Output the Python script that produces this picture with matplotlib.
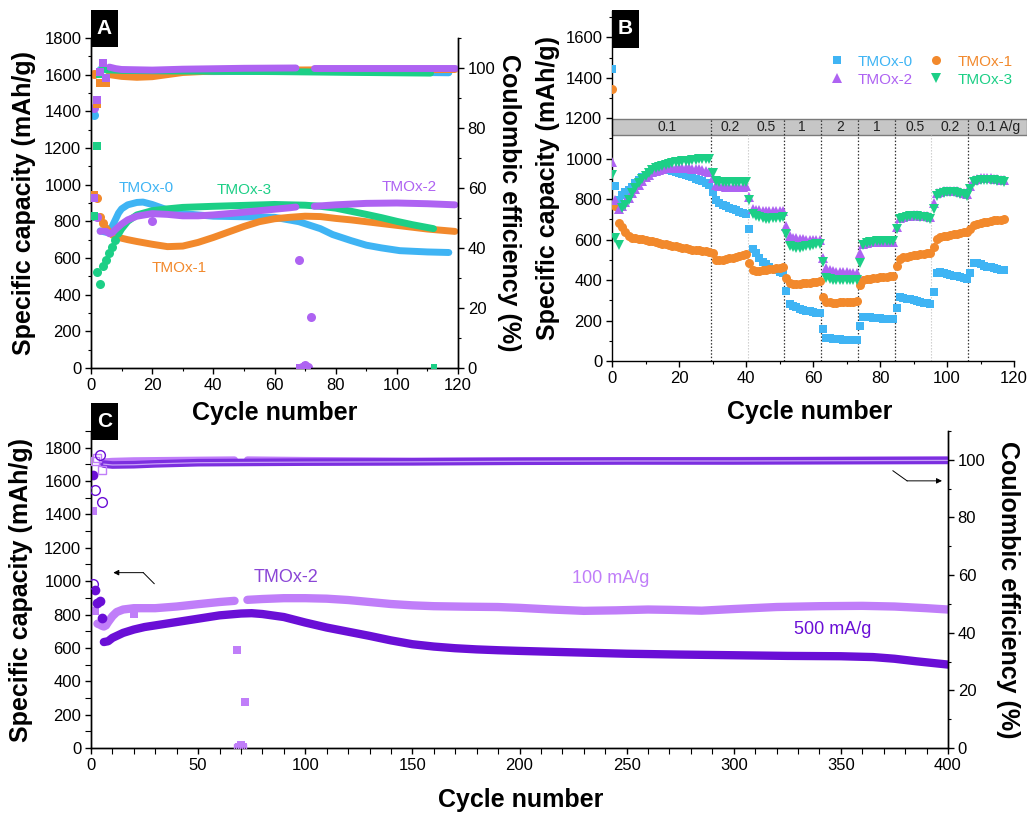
import matplotlib
matplotlib.use('Agg')
import matplotlib.pyplot as plt
from matplotlib.ticker import MultipleLocator
from matplotlib.patches import Rectangle

plt.rcParams['font.family'] = ['Liberation Sans', 'DejaVu Sans']
plt.rcParams['axes.linewidth'] = 1.0

# ---------------- colours ----------------
C_T0 = '#3fb4f4'
C_T1 = '#f2892c'
C_T2 = '#ae63f2'
C_T3 = '#1ccf86'
C_100 = '#c07ef9'
C_500 = '#6a0fd6'
C_LBL = '#8a45d6'

# ---------------- Panel A data ----------------
A_T0_cap_early_cyc = [1]
A_T0_cap_early = [1380]
A_T0_cap_cyc = [3, 5, 6, 7, 8, 9, 10, 12, 15, 17, 20, 25, 30, 40, 50, 60, 68, 75, 79, 85, 90, 95, 101, 110, 117]
A_T0_cap = [748, 740, 750, 775, 810, 845, 868, 890, 903, 905, 892, 862, 842, 828, 825, 822, 798, 760, 728, 695, 670, 655, 640, 633, 630]

A_T1_cap_early_cyc = [1, 2, 3, 4]
A_T1_cap_early = [1605, 925, 822, 793]
A_T1_cap_cyc = [5, 6, 7, 8, 10, 12, 15, 20, 25, 30, 35, 40, 45, 50, 55, 60, 65, 70, 75, 80, 85, 90, 95, 100, 105, 110, 119]
A_T1_cap = [765, 740, 725, 718, 708, 700, 690, 675, 662, 665, 685, 712, 742, 772, 798, 814, 822, 828, 826, 816, 808, 798, 788, 778, 768, 758, 745]

A_T2_cap_early_cyc = [1, 2]
A_T2_cap_early = [1418, 822]
A_T2_cap_cyc = [3, 4, 5, 6, 7, 8, 10, 12, 15, 20, 25, 30, 35, 40, 45, 50, 55, 60, 65, 67]
A_T2_cap = [745, 748, 745, 732, 738, 755, 785, 808, 828, 842, 838, 830, 830, 835, 842, 850, 858, 866, 874, 878]
A_T2_cap2_cyc = [73, 80, 90, 100, 110, 119]
A_T2_cap2 = [882, 890, 898, 900, 896, 890]
A_T2_cap_out_cyc = [20, 68, 69, 70, 71, 72]
A_T2_cap_out = [800, 590, 5, 18, 5, 278]

A_T3_cap_early_cyc = [1, 2, 3, 4, 5, 6, 7, 8]
A_T3_cap_early = [830, 525, 460, 555, 590, 625, 660, 700]
A_T3_cap_cyc = [9, 10, 12, 15, 20, 25, 30, 40, 50, 60, 70, 75, 80, 85, 90, 95, 100, 105, 112]
A_T3_cap = [730, 758, 800, 835, 858, 868, 876, 882, 887, 892, 888, 882, 872, 855, 838, 820, 800, 782, 760]

A_T0_ce_early_cyc = [1]
A_T0_ce_early = [57.0]
A_T0_ce_cyc = [3, 10, 20, 40, 60, 80, 100, 117]
A_T0_ce = [99.5, 99.2, 98.9, 98.8, 98.9, 98.8, 98.6, 98.4]

A_T1_ce_early_cyc = [1, 2, 3, 4, 5]
A_T1_ce_early = [57.7, 88.0, 94.9, 94.9, 94.9]
A_T1_ce_cyc = [6, 8, 10, 15, 20, 25, 30, 40, 60, 80, 100, 119]
A_T1_ce = [97.8, 97.5, 97.2, 96.9, 97.1, 97.8, 98.5, 99.0, 99.3, 99.4, 99.4, 99.5]

A_T2_ce_early_cyc = [1, 2, 3, 4, 5]
A_T2_ce_early = [56.8, 89.4, 98.8, 101.6, 96.6]
A_T2_ce_cyc = [6, 8, 10, 20, 30, 50, 67]
A_T2_ce = [100.3, 99.8, 99.5, 99.3, 99.6, 99.9, 100.0]
A_T2_ce2_cyc = [73, 90, 119]
A_T2_ce2 = [100.0, 100.0, 100.0]
A_T2_ce_out_cyc = [68, 69, 70, 71]
A_T2_ce_out = [0.3, 0.3, 0.9, 0.3]

A_T3_ce_early_cyc = [1, 2, 3, 4]
A_T3_ce_early = [50.7, 74.0, 98.0, 100.9]
A_T3_ce_cyc = [5, 10, 30, 60, 80, 100, 111]
A_T3_ce = [99.4, 99.2, 99.0, 98.8, 98.6, 98.4, 98.3]
A_T3_ce_out_cyc = [112]
A_T3_ce_out = [0.4]

# ---------------- Panel B data (rate capability, cycles 0..117) ----------------
B_cycles = list(range(118))
B_T0 = [1445, 865, 795, 820, 835, 845, 860, 880, 895, 910, 920, 930, 937, 941, 944, 945, 944, 942, 939, 935,
        930, 925, 920, 914, 908, 902, 896, 889, 880, 872,
        836, 795, 783, 773, 764, 757, 750, 744, 738, 733, 729,
        652, 556, 532, 507, 491, 477, 466, 457, 449, 441, 433,
        347, 281, 272, 265, 259, 254, 249, 245, 241, 238, 235,
        158, 116, 112, 110, 108, 107, 106, 106, 105, 105, 105,
        175, 219, 218, 216, 215, 213, 212, 210, 209, 208, 206,
        260, 318, 313, 308, 304, 300, 296, 292, 289, 285, 282,
        342, 436, 438, 435, 430, 426, 422, 418, 414, 410, 406,
        436, 486, 482, 477, 472, 467, 463, 459, 455, 451, 448]
B_T1 = [1345, 765, 683, 660, 639, 618, 610, 607, 605, 602, 598, 595, 591, 588, 584, 580, 577, 574, 570, 567,
        563, 560, 557, 554, 551, 549, 547, 545, 543, 541,
        535, 499, 498, 500, 503, 507, 511, 516, 520, 525, 530,
        482, 449, 447, 447, 448, 450, 453, 455, 458, 461, 465,
        408, 384, 381, 381, 382, 384, 386, 387, 389, 391, 393,
        317, 293, 290, 289, 289, 290, 291, 292, 293, 294, 295,
        375, 400, 404, 407, 409, 411, 413, 414, 416, 418, 420,
        471, 506, 512, 516, 519, 522, 525, 528, 530, 533, 536,
        565, 604, 611, 616, 620, 624, 627, 630, 633, 636, 640,
        650, 670, 676, 681, 685, 689, 692, 695, 697, 699, 701]
B_T2 = [985, 795, 750, 765, 785, 805, 830, 852, 872, 892, 908, 921, 932, 940, 946, 950, 953, 955, 956, 956,
        956, 955, 954, 953, 951, 949, 947, 944, 940, 936,
        905, 870, 866, 864, 862, 861, 861, 861, 862, 862, 863,
        811, 752, 746, 744, 743, 742, 742, 742, 742, 742, 742,
        667, 617, 610, 606, 603, 601, 600, 599, 598, 598, 598,
        507, 458, 450, 445, 442, 440, 439, 438, 437, 436, 436,
        532, 578, 584, 587, 589, 590, 590, 590, 590, 589, 588,
        663, 706, 712, 716, 719, 720, 720, 719, 717, 715, 712,
        779, 830, 836, 840, 842, 842, 841, 838, 835, 831, 826,
        866, 895, 900, 903, 905, 905, 904, 902, 900, 897, 893]
B_T3 = [920, 606, 575, 755, 772, 795, 830, 855, 878, 898, 915, 930, 942, 952, 960, 966, 971, 975, 979, 982,
        985, 987, 989, 991, 993, 995, 996, 998, 999, 1000,
        927, 890, 886, 884, 883, 883, 883, 884, 885, 886, 887,
        795, 728, 716, 710, 706, 704, 704, 705, 707, 709, 711,
        630, 568, 562, 560, 561, 563, 566, 569, 572, 576, 580,
        488, 410, 403, 400, 399, 398, 398, 399, 400, 401, 402,
        482, 573, 582, 587, 590, 592, 593, 594, 594, 594, 594,
        650, 700, 708, 713, 715, 716, 715, 713, 710, 707, 703,
        752, 818, 826, 831, 834, 834, 833, 830, 827, 823, 818,
        848, 884, 891, 895, 897, 897, 896, 894, 892, 889, 886]
B_rate_labels = ['0.1', '0.2', '0.5', '1', '2', '1', '0.5', '0.2', '0.1 A/g']
B_rate_label_x = [16.4, 35.2, 46.0, 56.6, 68.0, 79.0, 90.4, 101.0, 115.3]
B_bounds_dark = [29.6, 51.2, 62.4, 73.3, 84.4, 106.2]
B_bounds_light = [40.5, 95.1]

# ---------------- Panel C data (TMOx-2 long cycling) ----------------
C_100_cap_early_cyc = [1, 2]
C_100_cap_early = [1420, 822]
C_100_cap_cyc = [3, 4, 5, 6, 7, 8, 10, 12, 15, 20, 30, 40, 50, 60, 67]
C_100_cap = [745, 740, 733, 728, 735, 755, 790, 815, 830, 838, 838, 848, 862, 875, 882]
C_100_cap2_cyc = [73, 80, 90, 100, 110, 120, 130, 140, 150, 160, 175, 190, 200, 215, 230, 245, 260, 270, 285,
                  300, 320, 340, 360, 375, 390, 400]
C_100_cap2 = [888, 893, 898, 898, 895, 887, 875, 863, 855, 850, 847, 845, 840, 830, 822, 825, 830, 828, 823,
              833, 845, 850, 852, 848, 838, 830]
C_100_cap_out_cyc = [20, 68, 69, 70, 71, 72]
C_100_cap_out = [805, 590, 8, 15, 8, 277]

C_500_cap_early_cyc = [1, 2, 3, 4, 5]
C_500_cap_early = [1637, 950, 868, 882, 778]
C_500_cap_cyc = [6, 8, 10, 15, 20, 25, 30, 40, 50, 60, 70, 75, 80, 90, 100, 110, 120, 130, 140, 150, 160, 170,
                 180, 190, 200, 220, 250, 275, 300, 325, 350, 365, 375, 385, 400]
C_500_cap = [635, 640, 660, 690, 710, 725, 735, 755, 775, 795, 806, 808, 803, 785, 752, 722, 697, 672, 645, 622,
             608, 598, 591, 586, 582, 575, 565, 560, 556, 552, 550, 545, 535, 520, 500]

C_100_ce_early_cyc = [2, 3, 5]
C_100_ce_early = [99.7, 100.5, 96.5]
C_100_ce_cyc = [6, 10, 20, 50, 67]
C_100_ce = [99.3, 99.5, 99.7, 99.9, 100.0]
C_100_ce2_cyc = [73, 100, 150, 200, 300, 400]
C_100_ce2 = [100.0, 99.8, 99.6, 99.7, 99.8, 100.0]
C_100_ce_out_cyc = [68, 69, 70, 71]
C_100_ce_out = [0.5, 0.5, 0.8, 0.5]

C_500_ce_early_cyc = [1, 2, 4, 5]
C_500_ce_early = [57.0, 89.5, 101.6, 85.3]
C_500_ce_cyc = [6, 10, 20, 30, 50, 100, 150, 200, 250, 300, 350, 400]
C_500_ce = [98.5, 98.2, 98.3, 98.6, 99.0, 99.2, 99.3, 99.5, 99.6, 99.6, 99.7, 99.8]

# ---------------- figure ----------------
W, H = 1027, 817
fig = plt.figure(figsize=(W / 100, H / 100), dpi=100)


def rect(l, t, r, b):
    return [l / W, 1 - b / H, (r - l) / W, (b - t) / H]


def fx(px):
    return px / W


def fy(py):
    return 1 - py / H


def style_ticks(ax):
    ax.tick_params(which='major', direction='out', length=4, width=1, labelsize=12, pad=3)
    ax.tick_params(which='minor', direction='out', length=2.5, width=0.8)


def band(ax, x, y, color, lw=5, z=2):
    ax.plot(x, y, color=color, lw=lw, solid_capstyle='round', solid_joinstyle='round', zorder=z)


def pts(ax, x, y, color, marker='o', ms=6.5, z=3, filled=True, mew=1.0):
    if filled:
        ax.plot(x, y, ls='none', marker=marker, ms=ms, mfc=color, mec=color, mew=0, zorder=z)
    else:
        ax.plot(x, y, ls='none', marker=marker, ms=ms, mfc='none', mec=color, mew=mew, zorder=z)


def panel_letter(l, t, r, b, letter):
    fig.patches.append(Rectangle((fx(l), fy(b)), (r - l) / W, (b - t) / H, transform=fig.transFigure,
                                 facecolor='black', edgecolor='none', zorder=10))
    fig.text(fx((l + r) / 2), fy((t + b) / 2), letter, color='white', fontsize=15, fontweight='bold',
             ha='center', va='center', zorder=11)


# ================= Panel A =================
axA = fig.add_axes(rect(91, 38, 458, 368))
axA2 = axA.twinx()
axA.set_xlim(0, 120)
axA.set_ylim(0, 1800)
axA2.set_ylim(0, 110)
axA.spines['top'].set_visible(False)
axA2.spines['top'].set_visible(False)
axA.xaxis.set_major_locator(MultipleLocator(20))
axA.xaxis.set_minor_locator(MultipleLocator(10))
axA.yaxis.set_major_locator(MultipleLocator(200))
axA.yaxis.set_minor_locator(MultipleLocator(100))
axA2.yaxis.set_major_locator(MultipleLocator(20))
axA2.yaxis.set_minor_locator(MultipleLocator(10))
style_ticks(axA)
style_ticks(axA2)

band(axA, A_T0_cap_cyc, A_T0_cap, C_T0)
pts(axA, A_T0_cap_early_cyc, A_T0_cap_early, C_T0)
band(axA, A_T1_cap_cyc, A_T1_cap, C_T1)
pts(axA, A_T1_cap_early_cyc, A_T1_cap_early, C_T1)
band(axA, A_T3_cap_cyc, A_T3_cap, C_T3)
pts(axA, A_T3_cap_early_cyc, A_T3_cap_early, C_T3)
band(axA, A_T2_cap_cyc, A_T2_cap, C_T2)
band(axA, A_T2_cap2_cyc, A_T2_cap2, C_T2)
pts(axA, A_T2_cap_early_cyc, A_T2_cap_early, C_T2)
pts(axA, A_T2_cap_out_cyc, A_T2_cap_out, C_T2)

band(axA2, A_T0_ce_cyc, A_T0_ce, C_T0)
pts(axA2, A_T0_ce_early_cyc, A_T0_ce_early, C_T0, marker='s', ms=6)
band(axA2, A_T1_ce_cyc, A_T1_ce, C_T1)
pts(axA2, A_T1_ce_early_cyc, A_T1_ce_early, C_T1, marker='s', ms=6)
band(axA2, A_T3_ce_cyc, A_T3_ce, C_T3)
pts(axA2, A_T3_ce_early_cyc, A_T3_ce_early, C_T3, marker='s', ms=6)
pts(axA2, A_T3_ce_out_cyc, A_T3_ce_out, C_T3, marker='s', ms=5)
band(axA2, A_T2_ce_cyc, A_T2_ce, C_T2)
band(axA2, A_T2_ce2_cyc, A_T2_ce2, C_T2)
pts(axA2, A_T2_ce_early_cyc, A_T2_ce_early, C_T2, marker='s', ms=6)
pts(axA2, A_T2_ce_out_cyc, A_T2_ce_out, C_T2, marker='s', ms=5)

axA.text(18.1, 982, 'TMOx-0', color=C_T0, fontsize=11, ha='center', va='center')
axA.text(50.0, 971, 'TMOx-3', color=C_T3, fontsize=11, ha='center', va='center')
axA.text(104.0, 987, 'TMOx-2', color=C_T2, fontsize=11, ha='center', va='center')
axA.text(28.9, 545, 'TMOx-1', color=C_T1, fontsize=11, ha='center', va='center')

fig.text(fx(24), fy(203), 'Specific capacity (mAh/g)', rotation=90, fontsize=18, fontweight='bold',
         ha='center', va='center')
fig.text(fx(509), fy(203), 'Coulombic efficiency (%)', rotation=270, fontsize=18, fontweight='bold',
         ha='center', va='center')
fig.text(fx(275), fy(413), 'Cycle number', fontsize=18, fontweight='bold', ha='center', va='center')
panel_letter(91, 10, 118, 47, 'A')

# ================= Panel B =================
axB = fig.add_axes(rect(612, 11, 1014, 361))
axB.set_xlim(0, 120)
axB.set_ylim(0, 1730)
axB.spines['top'].set_visible(False)
axB.spines['right'].set_visible(False)
axB.xaxis.set_major_locator(MultipleLocator(20))
axB.xaxis.set_minor_locator(MultipleLocator(10))
axB.yaxis.set_major_locator(MultipleLocator(200))
axB.yaxis.set_minor_locator(MultipleLocator(100))
style_ticks(axB)

axB.vlines(B_bounds_dark, 0, 1195, colors='#333333', linestyles=(0, (1.2, 1.5)), lw=0.9, zorder=1)
axB.vlines(B_bounds_light, 0, 1115, colors='#c8c8c8', linestyles=(0, (1.2, 1.5)), lw=0.8, zorder=1)
axB.add_patch(Rectangle((0, 1115), 124, 80, facecolor='#c6c6c6', edgecolor='#7a7a7a', lw=1.0,
                        clip_on=False, zorder=0.5))
for lx, lt in zip(B_rate_label_x, B_rate_labels):
    axB.text(lx, 1155, lt, fontsize=10, ha='center', va='center', color='#222222', zorder=2)

hB0, = axB.plot(B_cycles, B_T0, ls='none', marker='s', ms=5.5, mfc=C_T0, mec=C_T0, mew=0, label='TMOx-0', zorder=3)
hB1, = axB.plot(B_cycles, B_T1, ls='none', marker='o', ms=6.5, mfc=C_T1, mec=C_T1, mew=0, label='TMOx-1', zorder=3)
hB2, = axB.plot(B_cycles, B_T2, ls='none', marker='^', ms=6.5, mfc=C_T2, mec=C_T2, mew=0, label='TMOx-2', zorder=3)
hB3, = axB.plot(B_cycles, B_T3, ls='none', marker='v', ms=6.5, mfc=C_T3, mec=C_T3, mew=0, label='TMOx-3', zorder=3)
axB.legend(handles=[hB0, hB2, hB1, hB3], ncol=2, frameon=False, fontsize=11, labelcolor='markerfacecolor',
           loc='upper left', bbox_to_anchor=(0.54, 0.875), handlelength=1.0, handletextpad=0.9,
           columnspacing=1.0, labelspacing=0.25, borderpad=0, borderaxespad=0)

fig.text(fx(548), fy(188), 'Specific capacity (mAh/g)', rotation=90, fontsize=18, fontweight='bold',
         ha='center', va='center')
fig.text(fx(810), fy(412), 'Cycle number', fontsize=18, fontweight='bold', ha='center', va='center')
panel_letter(612, 10, 639, 48, 'B')

# ================= Panel C =================
axC = fig.add_axes(rect(91, 431, 948, 748))
axC2 = axC.twinx()
axC.set_xlim(0, 400)
axC.set_ylim(0, 1900)
axC2.set_ylim(0, 110)
axC.spines['top'].set_visible(False)
axC2.spines['top'].set_visible(False)
axC.xaxis.set_major_locator(MultipleLocator(50))
axC.xaxis.set_minor_locator(MultipleLocator(10))
axC.yaxis.set_major_locator(MultipleLocator(200))
axC.yaxis.set_minor_locator(MultipleLocator(100))
axC2.yaxis.set_major_locator(MultipleLocator(20))
axC2.yaxis.set_minor_locator(MultipleLocator(10))
style_ticks(axC)
style_ticks(axC2)
axC.tick_params(which='minor', length=4)

band(axC, C_100_cap_cyc, C_100_cap, C_100, lw=6)
band(axC, C_100_cap2_cyc, C_100_cap2, C_100, lw=6)
pts(axC, C_100_cap_early_cyc, C_100_cap_early, C_100, marker='s', ms=6)
pts(axC, C_100_cap_out_cyc, C_100_cap_out, C_100, marker='s', ms=6)
band(axC, C_500_cap_cyc, C_500_cap, C_500, lw=6)
pts(axC, C_500_cap_early_cyc, C_500_cap_early, C_500, marker='o', ms=7)

band(axC2, C_100_ce_cyc, C_100_ce, C_100, lw=5)
band(axC2, C_100_ce2_cyc, C_100_ce2, C_100, lw=5)
pts(axC2, C_100_ce_early_cyc, C_100_ce_early, C_100, marker='s', ms=6, filled=False)
pts(axC2, C_100_ce_out_cyc, C_100_ce_out, C_100, marker='s', ms=5, filled=False)
band(axC2, C_500_ce_cyc, C_500_ce, '#7c2fe0', lw=5.5)
axC2.plot(C_500_ce_cyc, C_500_ce, color='#c9a3f7', lw=0.9, zorder=2.5)
pts(axC2, C_500_ce_early_cyc, C_500_ce_early, C_500, marker='o', ms=7, filled=False)

axC.text(91, 1023, 'TMOx-2', color=C_LBL, fontsize=13, ha='center', va='center')
axC.text(242.7, 1017, '100 mA/g', color=C_100, fontsize=13, ha='center', va='center')
axC.text(346.3, 712, '500 mA/g', color=C_500, fontsize=13, ha='center', va='center')

axC.plot([29.5, 24.4], [985, 1051], color='black', lw=0.7)
axC.annotate('', xy=(10.4, 1051), xytext=(24.4, 1051),
             arrowprops=dict(arrowstyle='-|>', color='black', lw=0.7, mutation_scale=8, shrinkA=0, shrinkB=0))
axC2.plot([374.3, 380.9], [96.2, 92.7], color='black', lw=0.7)
axC2.annotate('', xy=(397.2, 92.7), xytext=(380.9, 92.7),
              arrowprops=dict(arrowstyle='-|>', color='black', lw=0.7, mutation_scale=8, shrinkA=0, shrinkB=0))

fig.text(fx(21), fy(590), 'Specific capacity (mAh/g)', rotation=90, fontsize=18, fontweight='bold',
         ha='center', va='center')
fig.text(fx(1008), fy(590), 'Coulombic efficiency (%)', rotation=270, fontsize=18, fontweight='bold',
         ha='center', va='center')
fig.text(fx(521), fy(800), 'Cycle number', fontsize=18, fontweight='bold', ha='center', va='center')
panel_letter(91, 403, 118, 440, 'C')

fig.savefig('out.png', dpi=100)
